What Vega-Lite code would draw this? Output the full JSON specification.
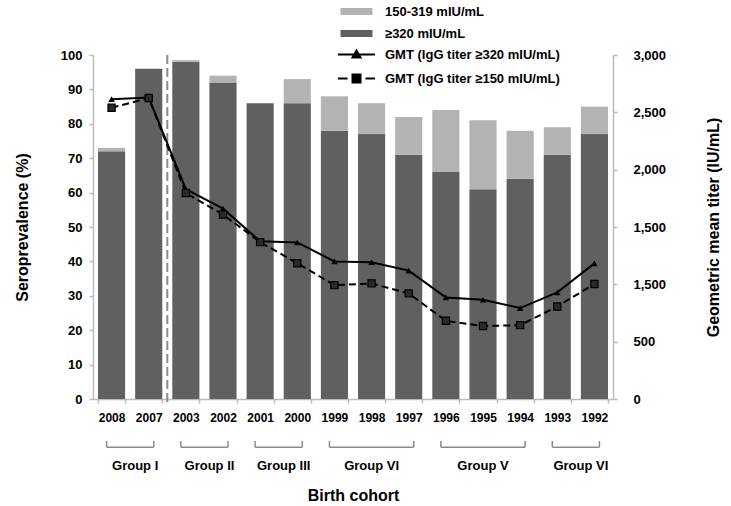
{
  "$schema": "https://vega.github.io/schema/vega-lite/v6.json",
  "width": 520,
  "height": 344,
  "autosize": {"type": "none"},
  "padding": {"left": 93, "top": 55, "right": 118, "bottom": 107},
  "config": {
    "font": "Liberation Sans",
    "view": {"stroke": null},
    "axis": {"grid": false, "labelColor": "#000", "titleColor": "#000", "labelFontWeight": "bold", "titleFontWeight": "bold", "domainColor": "#bbbbbb", "tickColor": "#bbbbbb", "domainWidth": 1.5, "tickWidth": 1.5, "tickSize": 4, "titleFontSize": 16},
    "axisX": {"labelFontSize": 12, "labelAngle": 0, "labelPadding": 9, "titlePadding": 64, "tickBand": "extent"},
    "axisLeft": {"labelFontSize": 13, "labelPadding": 7, "titlePadding": 30, "tickCount": 10},
    "axisRight": {"labelFontSize": 13, "labelPadding": 16, "titlePadding": 56, "tickCount": 6, "titleAngle": 270},
    "legend": {"labelLimit": 400}
  },
  "datasets": {
    "bars": [
      {"year": "2008", "level": "≥320 mIU/mL", "lo": 0, "hi": 72},
      {"year": "2008", "level": "150-319 mIU/mL", "lo": 72, "hi": 73},
      {"year": "2007", "level": "≥320 mIU/mL", "lo": 0, "hi": 96},
      {"year": "2003", "level": "≥320 mIU/mL", "lo": 0, "hi": 98},
      {"year": "2003", "level": "150-319 mIU/mL", "lo": 98, "hi": 98.5},
      {"year": "2002", "level": "≥320 mIU/mL", "lo": 0, "hi": 92},
      {"year": "2002", "level": "150-319 mIU/mL", "lo": 92, "hi": 94},
      {"year": "2001", "level": "≥320 mIU/mL", "lo": 0, "hi": 86},
      {"year": "2000", "level": "≥320 mIU/mL", "lo": 0, "hi": 86},
      {"year": "2000", "level": "150-319 mIU/mL", "lo": 86, "hi": 93},
      {"year": "1999", "level": "≥320 mIU/mL", "lo": 0, "hi": 78},
      {"year": "1999", "level": "150-319 mIU/mL", "lo": 78, "hi": 88},
      {"year": "1998", "level": "≥320 mIU/mL", "lo": 0, "hi": 77},
      {"year": "1998", "level": "150-319 mIU/mL", "lo": 77, "hi": 86},
      {"year": "1997", "level": "≥320 mIU/mL", "lo": 0, "hi": 71},
      {"year": "1997", "level": "150-319 mIU/mL", "lo": 71, "hi": 82},
      {"year": "1996", "level": "≥320 mIU/mL", "lo": 0, "hi": 66},
      {"year": "1996", "level": "150-319 mIU/mL", "lo": 66, "hi": 84},
      {"year": "1995", "level": "≥320 mIU/mL", "lo": 0, "hi": 61},
      {"year": "1995", "level": "150-319 mIU/mL", "lo": 61, "hi": 81},
      {"year": "1994", "level": "≥320 mIU/mL", "lo": 0, "hi": 64},
      {"year": "1994", "level": "150-319 mIU/mL", "lo": 64, "hi": 78},
      {"year": "1993", "level": "≥320 mIU/mL", "lo": 0, "hi": 71},
      {"year": "1993", "level": "150-319 mIU/mL", "lo": 71, "hi": 79},
      {"year": "1992", "level": "≥320 mIU/mL", "lo": 0, "hi": 77},
      {"year": "1992", "level": "150-319 mIU/mL", "lo": 77, "hi": 85}
    ],
    "lines": [
      {"year": "2008", "series": "GMT (IgG titer ≥320 mIU/mL)", "gmt": 2615},
      {"year": "2007", "series": "GMT (IgG titer ≥320 mIU/mL)", "gmt": 2630},
      {"year": "2003", "series": "GMT (IgG titer ≥320 mIU/mL)", "gmt": 1830},
      {"year": "2002", "series": "GMT (IgG titer ≥320 mIU/mL)", "gmt": 1660},
      {"year": "2001", "series": "GMT (IgG titer ≥320 mIU/mL)", "gmt": 1375},
      {"year": "2000", "series": "GMT (IgG titer ≥320 mIU/mL)", "gmt": 1365},
      {"year": "1999", "series": "GMT (IgG titer ≥320 mIU/mL)", "gmt": 1200},
      {"year": "1998", "series": "GMT (IgG titer ≥320 mIU/mL)", "gmt": 1192},
      {"year": "1997", "series": "GMT (IgG titer ≥320 mIU/mL)", "gmt": 1120},
      {"year": "1996", "series": "GMT (IgG titer ≥320 mIU/mL)", "gmt": 886},
      {"year": "1995", "series": "GMT (IgG titer ≥320 mIU/mL)", "gmt": 866},
      {"year": "1994", "series": "GMT (IgG titer ≥320 mIU/mL)", "gmt": 793},
      {"year": "1993", "series": "GMT (IgG titer ≥320 mIU/mL)", "gmt": 930},
      {"year": "1992", "series": "GMT (IgG titer ≥320 mIU/mL)", "gmt": 1183},
      {"year": "2008", "series": "GMT (IgG titer ≥150 mIU/mL)", "gmt": 2540},
      {"year": "2007", "series": "GMT (IgG titer ≥150 mIU/mL)", "gmt": 2625},
      {"year": "2003", "series": "GMT (IgG titer ≥150 mIU/mL)", "gmt": 1796},
      {"year": "2002", "series": "GMT (IgG titer ≥150 mIU/mL)", "gmt": 1609},
      {"year": "2001", "series": "GMT (IgG titer ≥150 mIU/mL)", "gmt": 1368},
      {"year": "2000", "series": "GMT (IgG titer ≥150 mIU/mL)", "gmt": 1184},
      {"year": "1999", "series": "GMT (IgG titer ≥150 mIU/mL)", "gmt": 993},
      {"year": "1998", "series": "GMT (IgG titer ≥150 mIU/mL)", "gmt": 1008},
      {"year": "1997", "series": "GMT (IgG titer ≥150 mIU/mL)", "gmt": 921},
      {"year": "1996", "series": "GMT (IgG titer ≥150 mIU/mL)", "gmt": 682},
      {"year": "1995", "series": "GMT (IgG titer ≥150 mIU/mL)", "gmt": 636},
      {"year": "1994", "series": "GMT (IgG titer ≥150 mIU/mL)", "gmt": 644},
      {"year": "1993", "series": "GMT (IgG titer ≥150 mIU/mL)", "gmt": 807},
      {"year": "1992", "series": "GMT (IgG titer ≥150 mIU/mL)", "gmt": 1003}
    ],
    "groups": [
      {"group": "Group I", "first": "2008", "last": "2007", "mid": "2007", "n": 2},
      {"group": "Group II", "first": "2003", "last": "2002", "mid": "2002", "n": 2},
      {"group": "Group III", "first": "2001", "last": "2000", "mid": "2000", "n": 2},
      {"group": "Group VI", "first": "1999", "last": "1997", "mid": "1998", "n": 3},
      {"group": "Group V", "first": "1996", "last": "1994", "mid": "1995", "n": 3},
      {"group": "Group VI", "first": "1993", "last": "1992", "mid": "1992", "n": 2}
    ],
    "divider": [{"year": "2003"}]
  },
  "layer": [
    {
      "layer": [
        {
          "data": {"name": "bars"},
          "mark": {"type": "bar"},
          "encoding": {
            "x": {
              "field": "year", "type": "nominal",
              "scale": {"domain": ["2008","2007","2003","2002","2001","2000","1999","1998","1997","1996","1995","1994","1993","1992"], "paddingInner": 0.27, "paddingOuter": 0.135},
              "title": "Birth cohort"
            },
            "y": {
              "field": "hi", "type": "quantitative",
              "scale": {"domain": [0, 100], "nice": false},
              "title": "Seroprevalence (%)"
            },
            "y2": {"field": "lo"},
            "color": {
              "field": "level", "type": "nominal",
              "scale": {"domain": ["150-319 mIU/mL", "≥320 mIU/mL"], "range": ["#b3b3b3", "#606060"]},
              "legend": {
                "orient": "none", "legendX": 257, "legendY": -50, "title": null, "padding": 0,
                "labelFontSize": 13, "labelFontWeight": "bold", "labelColor": "#000", "labelOffset": 22,
                "symbolSize": 100, "symbolType": "M-3.2,-0.7H3.2V0.7H-3.2Z", "symbolStrokeWidth": 0, "rowPadding": 8
              }
            }
          }
        },
        {
          "data": {"name": "divider"},
          "mark": {"type": "rule", "color": "#8a8a8a", "strokeWidth": 2, "strokeDash": [9, 4], "xOffset": -5},
          "encoding": {
            "x": {"field": "year", "type": "nominal", "bandPosition": 0, "title": "Birth cohort"},
            "y": {"datum": 100, "type": "quantitative", "title": "Seroprevalence (%)"},
            "y2": {"datum": -2}
          }
        },
        {
          "data": {"name": "groups"},
          "mark": {"type": "rule", "color": "#8a8a8a", "strokeWidth": 1.5, "xOffset": -5, "x2Offset": 5},
          "encoding": {
            "x": {"field": "first", "type": "nominal", "title": "Birth cohort"},
            "x2": {"field": "last"},
            "y": {"datum": -14, "type": "quantitative", "title": "Seroprevalence (%)"}
          }
        },
        {
          "data": {"name": "groups"},
          "mark": {"type": "rule", "color": "#8a8a8a", "strokeWidth": 1.5, "xOffset": -5},
          "encoding": {
            "x": {"field": "first", "type": "nominal", "title": "Birth cohort"},
            "y": {"datum": -14, "type": "quantitative", "title": "Seroprevalence (%)"},
            "y2": {"datum": -12.2}
          }
        },
        {
          "data": {"name": "groups"},
          "mark": {"type": "rule", "color": "#8a8a8a", "strokeWidth": 1.5, "xOffset": 5},
          "encoding": {
            "x": {"field": "last", "type": "nominal", "title": "Birth cohort"},
            "y": {"datum": -14, "type": "quantitative", "title": "Seroprevalence (%)"},
            "y2": {"datum": -12.2}
          }
        },
        {
          "data": {"name": "groups"},
          "transform": [{"filter": "datum.n == 2"}],
          "mark": {"type": "text", "fontSize": 13, "fontWeight": "bold", "color": "#000", "baseline": "middle"},
          "encoding": {
            "x": {"field": "mid", "type": "nominal", "bandPosition": 0, "title": "Birth cohort"},
            "y": {"datum": -19.5, "type": "quantitative", "title": "Seroprevalence (%)"},
            "text": {"field": "group"}
          }
        },
        {
          "data": {"name": "groups"},
          "transform": [{"filter": "datum.n == 3"}],
          "mark": {"type": "text", "fontSize": 13, "fontWeight": "bold", "color": "#000", "baseline": "middle"},
          "encoding": {
            "x": {"field": "mid", "type": "nominal", "bandPosition": 0.5, "title": "Birth cohort"},
            "y": {"datum": -19.5, "type": "quantitative", "title": "Seroprevalence (%)"},
            "text": {"field": "group"}
          }
        }
      ]
    },
    {
      "layer": [
        {
          "data": {"name": "lines"},
          "transform": [{"filter": "indexof(datum.series, '320') >= 0"}],
          "mark": {"type": "line", "color": "#000", "strokeWidth": 2},
          "encoding": {
            "x": {"field": "year", "type": "nominal", "title": "Birth cohort"},
            "y": {
              "field": "gmt", "type": "quantitative",
              "scale": {"domain": [0, 3000], "nice": false},
              "title": "Geometric mean titer (IU/mL)",
              "axis": {"orient": "right", "labelExpr": "datum.value == 1000 ? '1,500' : format(datum.value, ',')"}
            }
          }
        },
        {
          "data": {"name": "lines"},
          "transform": [{"filter": "indexof(datum.series, '150') >= 0"}],
          "mark": {"type": "line", "color": "#000", "strokeWidth": 2, "strokeDash": [7, 4]},
          "encoding": {
            "x": {"field": "year", "type": "nominal", "title": "Birth cohort"},
            "y": {"field": "gmt", "type": "quantitative", "title": "Geometric mean titer (IU/mL)", "axis": {"orient": "right", "labelExpr": "datum.value == 1000 ? '1,500' : format(datum.value, ',')"}}
          }
        },
        {
          "data": {"name": "lines"},
          "transform": [{"filter": "indexof(datum.series, '320') >= 0"}],
          "mark": {"type": "point", "shape": "triangle-up", "filled": true, "color": "#000", "size": 42, "opacity": 1},
          "encoding": {
            "x": {"field": "year", "type": "nominal", "title": "Birth cohort"},
            "y": {"field": "gmt", "type": "quantitative", "title": "Geometric mean titer (IU/mL)", "axis": {"orient": "right", "labelExpr": "datum.value == 1000 ? '1,500' : format(datum.value, ',')"}}
          }
        },
        {
          "data": {"name": "lines"},
          "transform": [{"filter": "indexof(datum.series, '150') >= 0"}],
          "mark": {"type": "point", "shape": "square", "filled": true, "color": "#2a2a2a", "stroke": "#000", "strokeWidth": 1.2, "size": 52, "opacity": 1},
          "encoding": {
            "x": {"field": "year", "type": "nominal", "title": "Birth cohort"},
            "y": {"field": "gmt", "type": "quantitative", "title": "Geometric mean titer (IU/mL)", "axis": {"orient": "right", "labelExpr": "datum.value == 1000 ? '1,500' : format(datum.value, ',')"}}
          }
        },
        {
          "data": {"name": "lines"},
          "mark": {"type": "point", "filled": true, "fill": "#000", "stroke": "#000", "strokeWidth": 2, "size": 0, "opacity": 1},
          "encoding": {
            "x": {"field": "year", "type": "nominal", "title": "Birth cohort"},
            "y": {"field": "gmt", "type": "quantitative", "title": "Geometric mean titer (IU/mL)", "axis": {"orient": "right", "labelExpr": "datum.value == 1000 ? '1,500' : format(datum.value, ',')"}},
            "shape": {
              "field": "series", "type": "nominal",
              "scale": {"domain": ["GMT (IgG titer ≥320 mIU/mL)", "GMT (IgG titer ≥150 mIU/mL)"], "range": ["M-3.7,0H3.7M0,-0.8L0.8,0.6L-0.8,0.6Z", "M-3.7,0H-1.8M1.8,0H3.7M-0.8,-0.8H0.8V0.8H-0.8Z"]},
              "legend": {
                "orient": "none", "legendX": 257, "legendY": -7, "title": null, "padding": 0,
                "labelFontSize": 13, "labelFontWeight": "bold", "labelColor": "#000", "labelOffset": 22, "rowPadding": 8, "labelLimit": 400,
                "symbolSize": 100, "symbolStrokeWidth": 2, "symbolOpacity": 1
              }
            }
          }
        }
      ]
    }
  ],
  "resolve": {"scale": {"y": "independent"}}
}
